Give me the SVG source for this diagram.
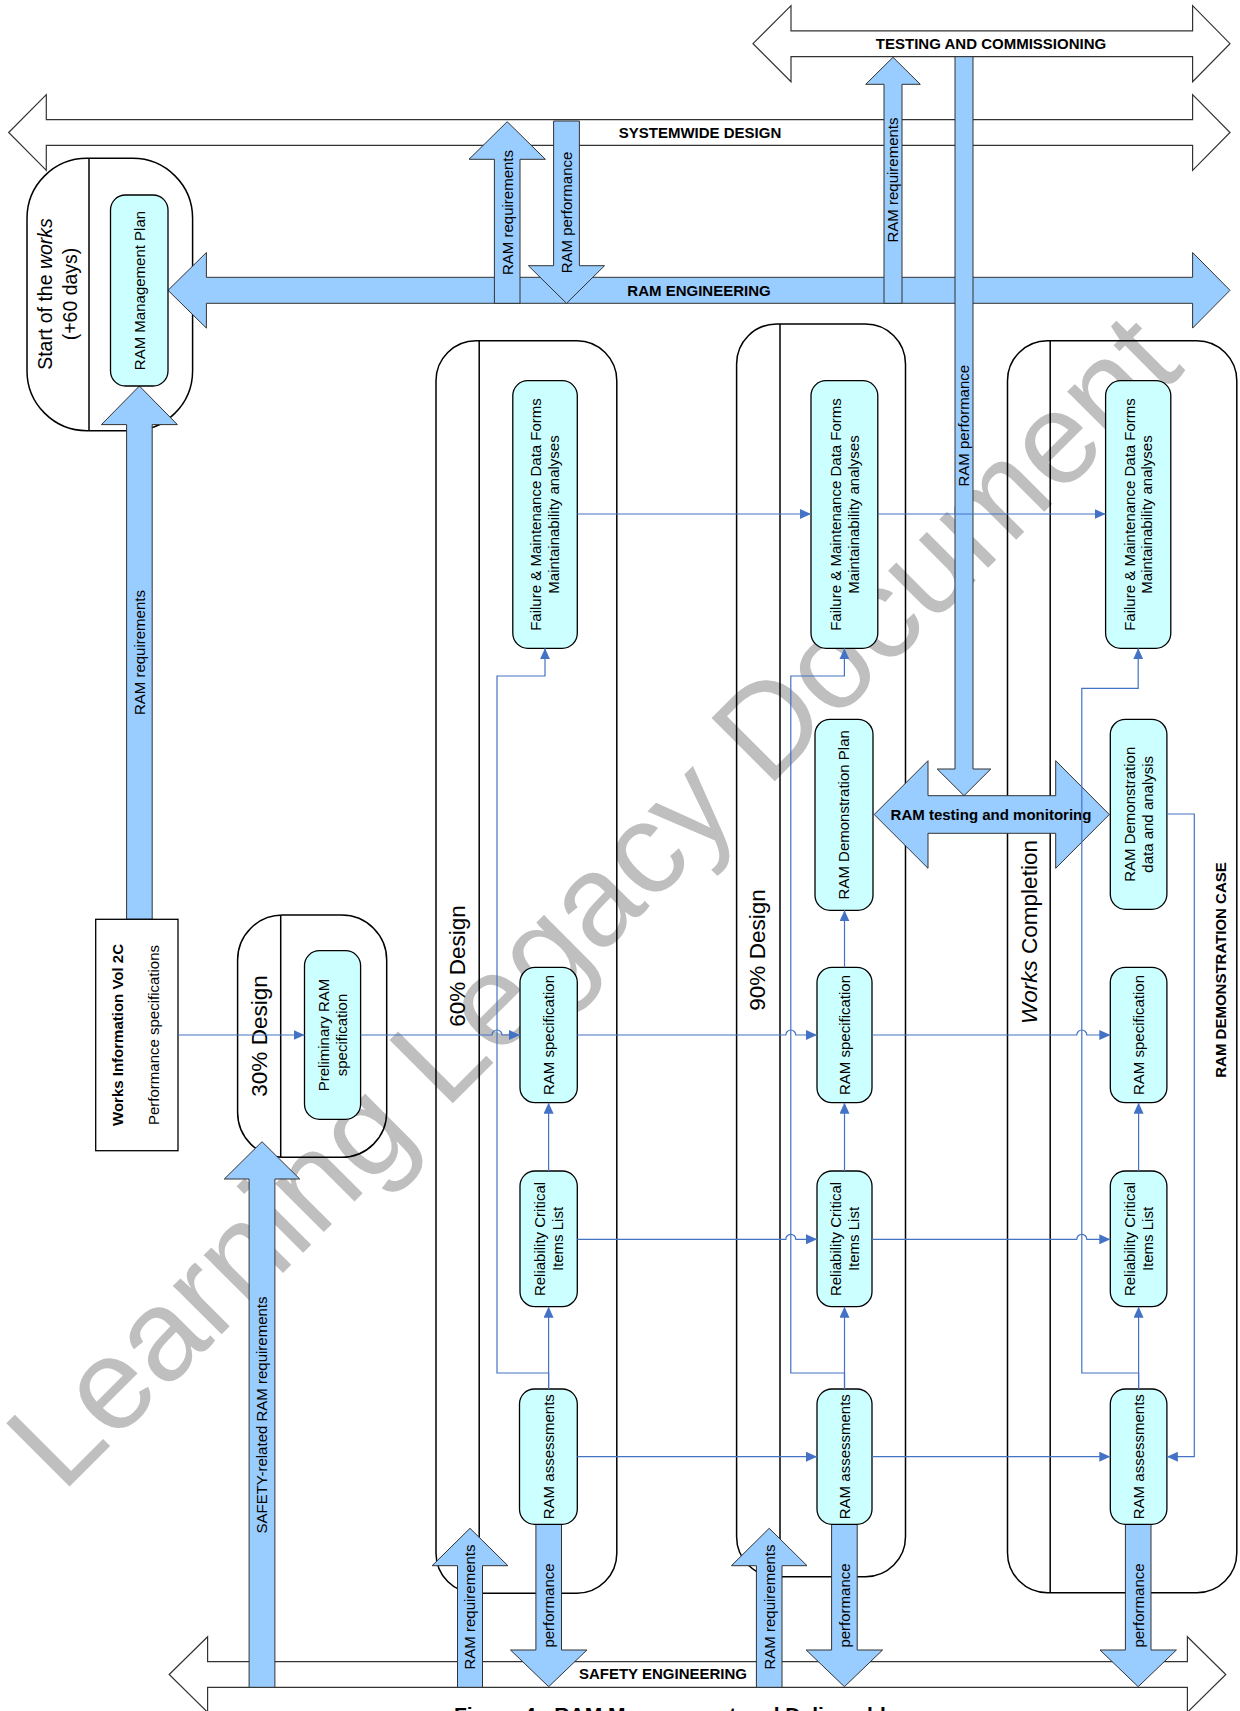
<svg xmlns="http://www.w3.org/2000/svg" width="1240" height="1711" viewBox="0 0 1240 1711">
  <style>
    .wa { fill: #ffffff; stroke: #333333; stroke-width: 1.2; }
    .ba { fill: #99CCFF; stroke: #333333; stroke-width: 1; }
    .ph { fill: none; stroke: #000000; stroke-width: 1.5; }
    .dv { stroke: #000000; stroke-width: 1.5; }
    .nd { fill: #CCFFFF; stroke: #000000; stroke-width: 1.3; }
    .bx { fill: #ffffff; stroke: #000000; stroke-width: 1.3; }
    .cn { fill: none; stroke: #4472C4; stroke-width: 1.2; }
    .ar { marker-end: url(#tip); }
    text { font-family: "Liberation Sans", Arial, Helvetica, sans-serif; font-size: 15px; fill: #000000; text-anchor: middle; }
    .b { font-weight: bold; }
    .pt { font-size: 22.5px; }
    .st { font-size: 19.5px; }
    .wm { font-size: 130px; fill: #BFBFBF; text-anchor: start; }
    .cap { font-size: 21px; font-weight: bold; text-anchor: start; }
  </style>
  <defs>
    <marker id="tip" viewBox="0 0 11 10" refX="11" refY="5" markerWidth="11" markerHeight="10" markerUnits="userSpaceOnUse" orient="auto">
      <path d="M0,0 L11,5 L0,10 z" fill="#4472C4"/>
    </marker>
  </defs>

  <!-- watermark, under the drawing -->
  <text class="wm" transform="translate(62,1494) rotate(-45)" x="0" y="0">Learning Legacy Document</text>

  <!-- white process bands -->
  <g id="band-testing">
    <polygon class="wa" points="753,43.7 791,5.7 791,30.8 1192.6,30.8 1192.6,5.7 1230,43.7 1192.6,81.7 1192.6,56.6 791,56.6 791,81.7"/>
    <text class="b" x="991" y="49">TESTING AND COMMISSIONING</text>
  </g>
  <g id="band-systemwide">
    <polygon class="wa" points="8.7,132.5 46.3,94.7 46.3,119.6 1192.6,119.6 1192.6,94.7 1230,132.5 1192.6,170.3 1192.6,145.4 46.3,145.4 46.3,170.3"/>
    <text class="b" x="700" y="138">SYSTEMWIDE DESIGN</text>
  </g>
  <g id="band-safety">
    <polygon class="wa" points="169.2,1674.5 207.6,1636.7 207.6,1661.7 1187.4,1661.7 1187.4,1636.7 1225.8,1674.5 1187.4,1712.3 1187.4,1687.3 207.6,1687.3 207.6,1712.3"/>
    <text class="b" x="663" y="1679">SAFETY ENGINEERING</text>
  </g>

  <!-- stage containers -->
  <g id="stage-start">
    <rect class="ph" x="27" y="158.3" width="165.6" height="272.4" rx="60" ry="60"/>
    <line class="dv" x1="89" y1="158.3" x2="89" y2="430.7"/>
    <g transform="translate(58,294) rotate(-90)">
      <text class="st" x="0" y="-5.7"><tspan>Start of the </tspan><tspan font-style="italic">works</tspan></text>
      <text class="st" x="0" y="19.3">(+60 days)</text>
    </g>
  </g>
  <g id="stage-30">
    <rect class="ph" x="237.6" y="915" width="149.1" height="242.3" rx="45" ry="45"/>
    <line class="dv" x1="280.7" y1="915" x2="280.7" y2="1157.3"/>
    <text class="pt" transform="translate(259,1036) rotate(-90)" x="0" y="7.9">30% Design</text>
  </g>
  <g id="stage-60">
    <rect class="ph" x="436" y="340.7" width="180.8" height="1252.6" rx="40" ry="40"/>
    <line class="dv" x1="479.2" y1="340.7" x2="479.2" y2="1593.3"/>
    <text class="pt" transform="translate(457,966) rotate(-90)" x="0" y="7.9">60% Design</text>
  </g>
  <g id="stage-90">
    <rect class="ph" x="736.6" y="324" width="168.9" height="1252.7" rx="40" ry="40"/>
    <line class="dv" x1="780" y1="324" x2="780" y2="1576.7"/>
    <text class="pt" transform="translate(757,950) rotate(-90)" x="0" y="7.9">90% Design</text>
  </g>
  <g id="stage-completion">
    <rect class="ph" x="1007.5" y="340.7" width="229.3" height="1252" rx="40" ry="40"/>
    <line class="dv" x1="1050.2" y1="340.7" x2="1050.2" y2="1592.7"/>
    <text class="pt" transform="translate(1029,932) rotate(-90)" x="0" y="7.9"><tspan font-style="italic">Works</tspan><tspan> Completion</tspan></text>
    <text class="b" transform="translate(1221,970) rotate(-90)" x="0" y="5.3">RAM DEMONSTRATION CASE</text>
  </g>

  <!-- RAM engineering band -->
  <g id="band-ram-engineering">
    <polygon class="ba" points="168,290.3 206.4,252.5 206.4,277.3 1192.6,277.3 1192.6,252.5 1230,290.3 1192.6,328.1 1192.6,303.3 206.4,303.3 206.4,328.1"/>
    <text class="b" x="699" y="295.5">RAM ENGINEERING</text>
  </g>

  <!-- information flow arrows -->
  <g id="flow-req-to-plan">
    <polygon class="ba" points="139.4,386 177.4,424.6 152.2,424.6 152.2,919.3 126.6,919.3 126.6,424.6 101.4,424.6"/>
    <text transform="translate(139.4,652.6) rotate(-90)" x="0" y="5.3">RAM requirements</text>
  </g>
  <g id="flow-req-systemwide">
    <polygon class="ba" points="507.2,121.7 545.4,159.3 520,159.3 520,303.3 494.4,303.3 494.4,159.3 469,159.3"/>
    <text transform="translate(507.2,212.5) rotate(-90)" x="0" y="5.3">RAM requirements</text>
  </g>
  <g id="flow-perf-systemwide">
    <polygon class="ba" points="553.6,121 579.4,121 579.4,265.7 604.6,265.7 566.5,303.3 528.4,265.7 553.6,265.7"/>
    <text transform="translate(566.5,212.5) rotate(-90)" x="0" y="5.3">RAM performance</text>
  </g>
  <g id="flow-req-testing">
    <polygon class="ba" points="893,57.3 920.3,84.3 902,84.3 902,303.3 884,303.3 884,84.3 865.7,84.3"/>
    <text transform="translate(893,180) rotate(-90)" x="0" y="5.3">RAM requirements</text>
  </g>
  <g id="flow-perf-testing">
    <polygon class="ba" points="955,56.7 973,56.7 973,769 990.8,769 964,795.7 937.2,769 955,769"/>
    <text transform="translate(964,425.7) rotate(-90)" x="0" y="5.3">RAM performance</text>
  </g>
  <g id="flow-safety-req">
    <polygon class="ba" points="262,1141.7 299.7,1179 274.9,1179 274.9,1687.3 249.1,1687.3 249.1,1179 224.3,1179"/>
    <text transform="translate(262,1415) rotate(-90)" x="0" y="5.3">SAFETY-related RAM requirements</text>
  </g>
  <g id="flow-req-60">
    <polygon class="ba" points="470,1528.3 507.9,1565.7 482.5,1565.7 482.5,1687.3 457.5,1687.3 457.5,1565.7 432.1,1565.7"/>
    <text transform="translate(470,1607) rotate(-90)" x="0" y="5.3">RAM requirements</text>
  </g>
  <g id="flow-req-90">
    <polygon class="ba" points="769.2,1528.3 807,1565.7 782,1565.7 782,1687.3 756.4,1687.3 756.4,1565.7 731.4,1565.7"/>
    <text transform="translate(769.2,1607) rotate(-90)" x="0" y="5.3">RAM requirements</text>
  </g>
  <g id="flow-perf-60">
    <polygon class="ba" points="535.9,1524.3 561.5,1524.3 561.5,1650 586.9,1650 548.7,1686.7 510.5,1650 535.9,1650"/>
    <text transform="translate(548.7,1605.5) rotate(-90)" x="0" y="5.3">performance</text>
  </g>
  <g id="flow-perf-90">
    <polygon class="ba" points="831.6,1524.3 857.2,1524.3 857.2,1650 882.6,1650 844.4,1686.7 806.2,1650 831.6,1650"/>
    <text transform="translate(844.4,1605.5) rotate(-90)" x="0" y="5.3">performance</text>
  </g>
  <g id="flow-perf-completion">
    <polygon class="ba" points="1125.4,1524.3 1151,1524.3 1151,1650 1176.4,1650 1138.2,1686.7 1100,1650 1125.4,1650"/>
    <text transform="translate(1138.2,1605.5) rotate(-90)" x="0" y="5.3">performance</text>
  </g>
  <g id="flow-testing-monitoring">
    <polygon class="ba" points="874.2,814.5 928,760.7 928,795.7 1055.7,795.7 1055.7,760.7 1109.3,814.5 1055.7,868.3 1055.7,833.3 928,833.3 928,868.3"/>
    <text class="b" x="991" y="819.8">RAM testing and monitoring</text>
  </g>

  <!-- deliverable nodes -->
  <g id="works-information">
    <rect class="bx" x="95.7" y="919.3" width="82.3" height="231.4"/>
    <text class="b" transform="translate(117.4,1035) rotate(-90)" x="0" y="5.3">Works Information Vol 2C</text>
    <text transform="translate(154,1035) rotate(-90)" x="0" y="5.3">Performance specifications</text>
  </g>
  <g id="ram-management-plan">
    <rect class="nd" x="110.5" y="195" width="57.5" height="191" rx="15" ry="15"/>
    <text transform="translate(139.2,290.5) rotate(-90)" x="0" y="5.3">RAM Management Plan</text>
  </g>
  <g id="preliminary-ram-spec">
    <rect class="nd" x="304.5" y="950.7" width="56.1" height="168.6" rx="15" ry="15"/>
    <g transform="translate(332.5,1035) rotate(-90)">
      <text x="0" y="-3.7">Preliminary RAM</text>
      <text x="0" y="14.3">specification</text>
    </g>
  </g>

  <g id="fmdf-60">
    <rect class="nd" x="512.8" y="380.7" width="64.5" height="267.6" rx="15" ry="15"/>
    <g transform="translate(545,514.5) rotate(-90)">
      <text x="0" y="-3.7">Failure &amp; Maintenance Data Forms</text>
      <text x="0" y="14.3">Maintainability analyses</text>
    </g>
  </g>
  <g id="ram-spec-60">
    <rect class="nd" x="520" y="967.3" width="57.3" height="135.4" rx="15" ry="15"/>
    <text transform="translate(548.6,1035) rotate(-90)" x="0" y="5.3">RAM specification</text>
  </g>
  <g id="rcil-60">
    <rect class="nd" x="520" y="1171" width="57.3" height="135.7" rx="15" ry="15"/>
    <g transform="translate(548.6,1239) rotate(-90)">
      <text x="0" y="-3.7">Reliability Critical</text>
      <text x="0" y="14.3">Items List</text>
    </g>
  </g>
  <g id="ram-assess-60">
    <rect class="nd" x="519.5" y="1389" width="57.8" height="135.3" rx="15" ry="15"/>
    <text transform="translate(548.6,1456.7) rotate(-90)" x="0" y="5.3">RAM assessments</text>
  </g>

  <g id="fmdf-90">
    <rect class="nd" x="811" y="380.7" width="66.8" height="267.6" rx="15" ry="15"/>
    <g transform="translate(844.4,514.5) rotate(-90)">
      <text x="0" y="-3.7">Failure &amp; Maintenance Data Forms</text>
      <text x="0" y="14.3">Maintainability analyses</text>
    </g>
  </g>
  <g id="ram-demo-plan-90">
    <rect class="nd" x="815" y="719.3" width="58" height="191" rx="15" ry="15"/>
    <text transform="translate(844,814.8) rotate(-90)" x="0" y="5.3">RAM Demonstration Plan</text>
  </g>
  <g id="ram-spec-90">
    <rect class="nd" x="817" y="967.3" width="55" height="135.4" rx="15" ry="15"/>
    <text transform="translate(844.5,1035) rotate(-90)" x="0" y="5.3">RAM specification</text>
  </g>
  <g id="rcil-90">
    <rect class="nd" x="817" y="1171" width="55" height="135.7" rx="15" ry="15"/>
    <g transform="translate(844.5,1239) rotate(-90)">
      <text x="0" y="-3.7">Reliability Critical</text>
      <text x="0" y="14.3">Items List</text>
    </g>
  </g>
  <g id="ram-assess-90">
    <rect class="nd" x="817" y="1389" width="55" height="135.3" rx="15" ry="15"/>
    <text transform="translate(844.5,1456.7) rotate(-90)" x="0" y="5.3">RAM assessments</text>
  </g>

  <g id="fmdf-completion">
    <rect class="nd" x="1105.6" y="380.7" width="65.2" height="267.6" rx="15" ry="15"/>
    <g transform="translate(1138.2,514.5) rotate(-90)">
      <text x="0" y="-3.7">Failure &amp; Maintenance Data Forms</text>
      <text x="0" y="14.3">Maintainability analyses</text>
    </g>
  </g>
  <g id="ram-demo-data-completion">
    <rect class="nd" x="1110.3" y="719.3" width="56.6" height="190" rx="15" ry="15"/>
    <g transform="translate(1138.6,814.3) rotate(-90)">
      <text x="0" y="-3.7">RAM Demonstration</text>
      <text x="0" y="14.3">data and analysis</text>
    </g>
  </g>
  <g id="ram-spec-completion">
    <rect class="nd" x="1110.3" y="967.3" width="56.6" height="135.4" rx="15" ry="15"/>
    <text transform="translate(1138.6,1035) rotate(-90)" x="0" y="5.3">RAM specification</text>
  </g>
  <g id="rcil-completion">
    <rect class="nd" x="1110.3" y="1171" width="56.6" height="135.7" rx="15" ry="15"/>
    <g transform="translate(1138.6,1239) rotate(-90)">
      <text x="0" y="-3.7">Reliability Critical</text>
      <text x="0" y="14.3">Items List</text>
    </g>
  </g>
  <g id="ram-assess-completion">
    <rect class="nd" x="1110.3" y="1389" width="56.6" height="135.3" rx="15" ry="15"/>
    <text transform="translate(1138.6,1456.7) rotate(-90)" x="0" y="5.3">RAM assessments</text>
  </g>

  <!-- connectors -->
  <g id="connectors">
    <!-- failure & maintenance data row -->
    <path class="cn ar" d="M577.3,514 H811"/>
    <path class="cn ar" d="M877.8,514 H1105.6"/>
    <!-- specification row -->
    <path class="cn ar" d="M178,1035 H304.5"/>
    <path class="cn ar" d="M360.6,1035 H492 A5,5 0 0 1 502,1035 H520"/>
    <path class="cn ar" d="M577.3,1035 H785.8 A5,5 0 0 1 795.8,1035 H817"/>
    <path class="cn ar" d="M872,1035 H1076.8 A5,5 0 0 1 1086.8,1035 H1110.3"/>
    <!-- critical items row -->
    <path class="cn ar" d="M577.3,1239.3 H785.8 A5,5 0 0 1 795.8,1239.3 H817"/>
    <path class="cn ar" d="M872,1239.3 H1076.8 A5,5 0 0 1 1086.8,1239.3 H1110.3"/>
    <!-- assessments row -->
    <path class="cn ar" d="M577.3,1456.7 H817"/>
    <path class="cn ar" d="M872,1456.7 H1110.3"/>
    <!-- 60% column -->
    <path class="cn ar" d="M548.6,1389 V1306.7"/>
    <path class="cn ar" d="M548.6,1171 V1102.7"/>
    <path class="cn ar" d="M548.6,1389 V1373 H497 V676 H545 V648.3"/>
    <!-- 90% column -->
    <path class="cn ar" d="M844.5,1389 V1306.7"/>
    <path class="cn ar" d="M844.5,1171 V1102.7"/>
    <path class="cn ar" d="M844.5,967.3 V910.3"/>
    <path class="cn ar" d="M844.5,1389 V1373 H790.8 V676 H844.4 V648.3"/>
    <!-- completion column -->
    <path class="cn ar" d="M1138.6,1389 V1306.7"/>
    <path class="cn ar" d="M1138.6,1171 V1102.7"/>
    <path class="cn ar" d="M1138.6,1389 V1373 H1081.8 V688.3 H1138.2 V648.3"/>
    <path class="cn ar" d="M1166.9,814 H1194.3 V1456.7 H1166.9"/>
  </g>

  <!-- caption, cut by the page edge -->
  <text class="cap" x="454" y="1722">Figure 4 - RAM Management and Deliverables</text>
</svg>
